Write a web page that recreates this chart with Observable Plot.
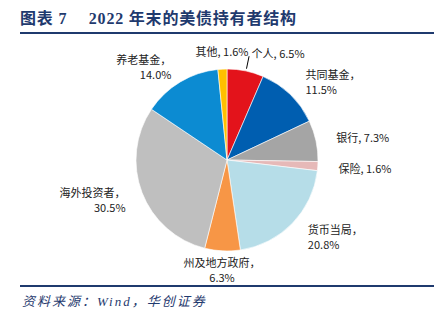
<!DOCTYPE html>
<html>
<head>
<meta charset="utf-8">
<script src="https://cdn.jsdelivr.net/npm/d3@7"></script>
<script src="https://cdn.jsdelivr.net/npm/@observablehq/plot@0.6"></script>
<style>
  html, body { margin: 0; padding: 0; background: #fff; }
  #wrap { position: relative; width: 444px; height: 322px; overflow: hidden; }
  #title { position: absolute; left: 20px; top: 9px; font-family: "Liberation Serif", "Noto Sans CJK SC", serif; font-weight: bold; font-size: 16px; line-height: 20px; color: #1f3a6e; white-space: pre; letter-spacing: 0.8px; }
  .rule { position: absolute; left: 20px; width: 414px; height: 2px; background: #1f3a6e; }
  #chart { position: absolute; left: 0; top: 35px; }
  #source { position: absolute; left: 22px; top: 294px; font-family: "Liberation Serif", "Noto Sans CJK SC", serif; font-style: italic; font-size: 13px; line-height: 16px; color: #1f3a6e; white-space: pre; letter-spacing: 2px; }
</style>
</head>
<body>
<div id="wrap">
  <div id="title">图表 7　 2022 年末的美债持有者结构</div>
  <div class="rule" style="top:32px"></div>
  <div id="chart"></div>
  <div class="rule" style="top:285px"></div>
  <div id="source">资料来源：Wind，华创证券</div>
</div>
<script>
// ---- data ----
const names  = ["个人", "共同基金", "银行", "保险", "货币当局", "州及地方政府", "海外投资者", "养老基金", "其他"];
const shares = [6.5, 11.5, 7.3, 1.6, 20.8, 6.3, 30.5, 14.0, 1.6];
const colors = ["#e3131b", "#005eb0", "#a5a5a5", "#e6b9b8", "#b6dde8", "#f79646", "#bfbfbf", "#0c8bd2", "#ffc000"];

// ---- layout ----
const W = 444, H = 250, R = 91, CX = 227, CY = 125;
const LABEL_R = 1.2;
const withLeader = ["个人"];

const table = names.map((name, i) => ({ name, share: shares[i], color: colors[i] }));
const arcs = d3.pie().value(d => d.share).sort(null)(table);

const labels = arcs.map(a => {
  const m = (a.startAngle + a.endAngle) / 2;
  const s = Math.sin(m), c = Math.cos(m);
  const name = a.data.name, v = a.data.share.toFixed(1) + "%";
  return {
    name,
    x: s * LABEL_R, y: c * LABEL_R,
    x0: s * 1.03, y0: c * 1.03, x1: s * 1.17, y1: c * 1.17,
    anchor: s > 0.15 ? "start" : s < -0.15 ? "end" : "middle",
    text: name.length > 2 ? `${name}，\n${v}` : `${name}, ${v}`
  };
});

function pieMark(index, scales) {
  const cx = scales.x(0), cy = scales.y(0), r = scales.x(1) - scales.x(0);
  const g = d3.create("svg:g").attr("transform", `translate(${cx},${cy})`);
  const arc = d3.arc().innerRadius(0).outerRadius(r);
  g.selectAll("path").data(arcs).join("path")
    .attr("d", arc)
    .attr("fill", d => d.data.color)
    .attr("stroke", "#fff")
    .attr("stroke-width", 0.6);
  return g.node();
}

const textOpts = {
  x: "x", y: "y", text: "text",
  fontSize: 11, lineHeight: 1.35, fill: "#222",
  fontFamily: "'Noto Sans CJK SC', sans-serif"
};

const chart = Plot.plot({
  width: W, height: H,
  margin: 0,
  x: { domain: [-CX / R, (W - CX) / R], axis: null },
  y: { domain: [-(H - CY) / R, CY / R], axis: null },
  marks: [
    pieMark,
    Plot.link(labels.filter(d => withLeader.includes(d.name)), { x1: "x0", y1: "y0", x2: "x1", y2: "y1", stroke: "#000", strokeWidth: 1 }),
    Plot.text(labels.filter(d => d.anchor === "start"), { ...textOpts, textAnchor: "start", dx: 2 }),
    Plot.text(labels.filter(d => d.anchor === "end"), { ...textOpts, textAnchor: "end" }),
    Plot.text(labels.filter(d => d.anchor === "middle"), { ...textOpts, textAnchor: "middle" })
  ]
});
document.getElementById("chart").appendChild(chart);
</script>
</body>
</html>
